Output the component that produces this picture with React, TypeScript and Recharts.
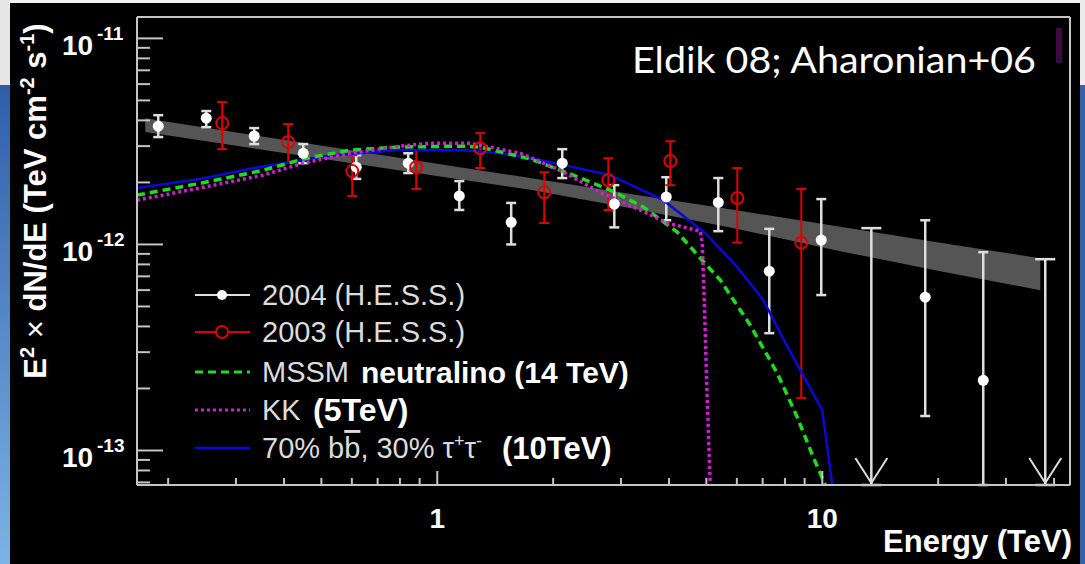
import React from 'react';
import { ComposedChart, Line, Area, Scatter, XAxis, YAxis, ErrorBar } from 'recharts';

// ---------- axes ----------
const X_MIN = 0.166;
const X_MAX = 44;
const Y_MIN = 6.8e-14;
const Y_MAX = 1.27e-11;

const xTicks = [0.2, 0.3, 0.4, 0.5, 0.6, 0.7, 0.8, 0.9, 1, 2, 3, 4, 5, 6, 7, 8, 9, 10, 20, 30, 40];
const yTicks = [
  7e-14, 8e-14, 9e-14,
  1e-13, 2e-13, 3e-13, 4e-13, 5e-13, 6e-13, 7e-13, 8e-13, 9e-13,
  1e-12, 2e-12, 3e-12, 4e-12, 5e-12, 6e-12, 7e-12, 8e-12, 9e-12,
  1e-11,
];

// ---------- 2004 H.E.S.S. ----------
const hess04E = [0.1885, 0.2512, 0.3346, 0.4487, 0.6161, 0.8407, 1.141, 1.556, 2.112, 2.883, 3.934, 5.37, 7.283, 9.94, 18.51, 26.19];
const hess04F = [3.75e-12, 4.1e-12, 3.36e-12, 2.77e-12, 2.37e-12, 2.48e-12, 1.72e-12, 1.28e-12, 2.48e-12, 1.57e-12, 1.7e-12, 1.6e-12, 7.42e-13, 1.05e-12, 5.55e-13, 2.19e-13];
const hess04Hi = [4.24e-12, 4.44e-12, 3.67e-12, 3.07e-12, 2.71e-12, 2.77e-12, 2.03e-12, 1.59e-12, 2.9e-12, 1.94e-12, 2.12e-12, 2.1e-12, 1.19e-12, 1.66e-12, 1.31e-12, 9.17e-13];
const hess04Lo = [3.32e-12, 3.71e-12, 3.07e-12, 2.48e-12, 2.08e-12, 2.22e-12, 1.47e-12, 1.0e-12, 2.1e-12, 1.21e-12, 1.31e-12, 1.16e-12, 3.71e-13, 5.68e-13, 1.47e-13, 6.8e-14];

// 2004 upper limits
const ulE = [13.41, 37.95];
const ulF = [1.2e-12, 8.48e-13];

// ---------- 2003 H.E.S.S. ----------
const hess03E = [0.2764, 0.41, 0.6015, 0.882, 1.293, 1.896, 2.782, 4.03, 6.016, 8.821];
const hess03F = [3.88e-12, 3.14e-12, 2.27e-12, 2.37e-12, 2.93e-12, 1.79e-12, 2.05e-12, 2.54e-12, 1.68e-12, 1.02e-12];
const hess03Hi = [4.91e-12, 3.84e-12, 2.71e-12, 2.87e-12, 3.47e-12, 2.24e-12, 2.62e-12, 3.17e-12, 2.35e-12, 1.86e-12];
const hess03Lo = [2.9e-12, 2.48e-12, 1.72e-12, 1.86e-12, 2.35e-12, 1.27e-12, 1.47e-12, 1.94e-12, 1.02e-12, 1.8e-13];

// ---------- power-law fit band ----------
const bandE = [0.1744, 0.5274, 1.049, 1.744, 3.368, 5.768, 11.14, 20.25, 36.83];
const bandHi = [4.1e-12, 2.97e-12, 2.43e-12, 2.1e-12, 1.73e-12, 1.48e-12, 1.22e-12, 1.02e-12, 8.58e-13];
const bandLo = [3.51e-12, 2.57e-12, 2.12e-12, 1.84e-12, 1.47e-12, 1.21e-12, 9.28e-13, 7.42e-13, 6.0e-13];

// ---------- model curves ----------
const mssmE = [0.166, 0.2423, 0.3532, 0.4487, 0.5943, 0.8015, 1.147, 1.293, 1.744, 2.255, 2.814, 3.429, 4.202, 4.821, 5.435, 6.501, 7.641, 8.612, 9.476, 10.18];
const mssmF = [1.735e-12, 1.98e-12, 2.29e-12, 2.6e-12, 2.87e-12, 2.97e-12, 3.0e-12, 2.97e-12, 2.6e-12, 2.17e-12, 1.835e-12, 1.52e-12, 1.147e-12, 8.58e-13, 6.71e-13, 4.06e-13, 2.37e-13, 1.45e-13, 9.28e-14, 6.8e-14];

const kkE = [0.166, 0.2423, 0.3532, 0.4487, 0.5943, 0.8015, 0.9589, 1.218, 1.643, 2.087, 2.651, 3.368, 3.958, 4.821, 4.879, 4.937, 5.027, 5.118];
const kkF = [1.64e-12, 1.88e-12, 2.17e-12, 2.48e-12, 2.77e-12, 3.0e-12, 3.1e-12, 3.1e-12, 2.77e-12, 2.29e-12, 1.79e-12, 1.47e-12, 1.27e-12, 1.16e-12, 1.015e-12, 5.37e-13, 1.755e-13, 6.8e-14];

const bbE = [0.166, 0.2423, 0.3267, 0.5274, 0.8015, 1.147, 1.458, 1.851, 2.814, 3.864, 4.967, 6.016, 7.029, 7.78, 8.768, 10.0, 10.62];
const bbF = [1.88e-12, 2.08e-12, 2.33e-12, 2.7e-12, 2.87e-12, 2.87e-12, 2.77e-12, 2.57e-12, 2.17e-12, 1.64e-12, 1.135e-12, 7.76e-13, 5.37e-13, 3.71e-13, 2.45e-13, 1.57e-13, 6.8e-14];

// ---------- build series ----------
const pts = (E: number[], F: number[], Lo: number[], Hi: number[]) =>
  E.map((x, i) => ({ x, y: F[i], err: [F[i] - Lo[i], Hi[i] - F[i]] }));
const curve = (E: number[], F: number[]) => E.map((x, i) => ({ x, y: F[i] }));

const data04 = pts(hess04E, hess04F, hess04Lo, hess04Hi);
const data03 = pts(hess03E, hess03F, hess03Lo, hess03Hi);
const dataUL = ulE.map((x, i) => ({ x, y: Y_MIN, err: [0, ulF[i] - Y_MIN] }));
const dataBand = bandE.map((x, i) => ({ x, range: [bandLo[i], bandHi[i]] }));
const dataMssm = curve(mssmE, mssmF);
const dataKK = curve(kkE, kkF);
const dataBB = curve(bbE, bbF);

const FONT = '"Liberation Sans", Arial, Helvetica, sans-serif';
const AXIS = '#c4c4c4';
const WHITE = '#dedede';
const RED = '#e00000';
const GREEN = '#1edc1e';
const MAGENTA = '#cc22cc';
const BLUE = '#0a0ad8';

const isMajor = (v: number) => {
  const lg = Math.log10(v);
  return Math.abs(lg - Math.round(lg)) < 1e-6;
};

function YTick(props: any) {
  const { x, y, payload } = props;
  const v = payload.value;
  const major = isMajor(v);
  const ex = Math.round(Math.log10(v));
  return (
    <g>
      <line x1={x} y1={y} x2={x + (major ? 26 : 13)} y2={y} stroke={AXIS} strokeWidth={2} />
      {major && (
        <text fill="#fff" fontWeight="bold" fontFamily={FONT}>
          <tspan x={x - 75} y={y + 17} fontSize={28}>10</tspan>
          <tspan x={x - 40} y={y + 2} fontSize={19}>{String(ex)}</tspan>
        </text>
      )}
    </g>
  );
}

function XTick(props: any) {
  const { x, y, payload } = props;
  const v = payload.value;
  const major = isMajor(v);
  return (
    <g>
      <line x1={x} y1={y} x2={x} y2={y - (major ? 14 : 7)} stroke={AXIS} strokeWidth={2} />
      {major && (
        <text x={x} y={y + 43} textAnchor="middle" fill="#fff" fontWeight="bold" fontSize={28} fontFamily={FONT}>
          {String(v)}
        </text>
      )}
    </g>
  );
}

const whiteDot = (p: any) => <circle cx={p.cx} cy={p.cy} r={5.5} fill="#fff" />;
const redRing = (p: any) => <circle cx={p.cx} cy={p.cy} r={6} fill="none" stroke={RED} strokeWidth={2} />;
const arrowHead = (p: any) => (
  <polyline
    points={`${p.cx - 16},${p.cy - 27} ${p.cx},${p.cy - 2} ${p.cx + 16},${p.cy - 27}`}
    fill="none"
    stroke={WHITE}
    strokeWidth={2}
  />
);

function Legend() {
  const x0 = 195;
  const x1 = 250;
  const xm = 222;
  const tx = 262;
  const rows = [295, 332, 372, 410, 448];
  const txt = { fill: '#dcdcdc', fontSize: 29, fontFamily: FONT } as any;
  const bold = { fill: '#fff', fontSize: 31, fontWeight: 'bold', fontFamily: FONT } as any;
  return (
    <g>
      <line x1={x0} x2={x1} y1={rows[0]} y2={rows[0]} stroke={WHITE} strokeWidth={2} />
      <circle cx={xm} cy={rows[0]} r={5} fill="#fff" />
      <text x={tx} y={rows[0] + 10} {...txt}>2004 (H.E.S.S.)</text>

      <line x1={x0} x2={x1} y1={rows[1]} y2={rows[1]} stroke={RED} strokeWidth={2} />
      <circle cx={xm} cy={rows[1]} r={6} fill="#000" stroke={RED} strokeWidth={2} />
      <text x={tx} y={rows[1] + 10} {...txt}>2003 (H.E.S.S.)</text>

      <line x1={x0} x2={x1} y1={rows[2]} y2={rows[2]} stroke={GREEN} strokeWidth={3} strokeDasharray="8 5" />
      <text x={tx} y={rows[2] + 10} {...txt}>MSSM</text>
      <text x={361} y={rows[2] + 11} {...bold} fontSize={30}>neutralino (14 TeV)</text>

      <line x1={x0} x2={x1} y1={rows[3]} y2={rows[3]} stroke={MAGENTA} strokeWidth={3} strokeDasharray="3 3" />
      <text x={tx} y={rows[3] + 10} {...txt}>KK</text>
      <text x={313} y={rows[3] + 11} {...bold} fontSize={32}>(5TeV)</text>

      <line x1={x0} x2={x1} y1={rows[4]} y2={rows[4]} stroke={BLUE} strokeWidth={2.5} />
      <text x={tx} y={rows[4] + 10} {...txt}>
        70% b<tspan style={{ textDecoration: 'overline' }}>b</tspan>, 30% τ
        <tspan dy={-11} fontSize={18}>+</tspan>
        <tspan dy={11}>τ</tspan>
        <tspan dy={-11} fontSize={18}>-</tspan>
      </text>
      <text x={502} y={rows[4] + 11} {...bold}>(10TeV)</text>
    </g>
  );
}

export default function App() {
  return (
    <div
      style={{
        position: 'absolute',
        left: 0,
        top: 0,
        width: 1085,
        height: 564,
        background: '#000',
        overflow: 'hidden',
        fontFamily: FONT,
      }}
    >
      <div style={{ position: 'absolute', left: 0, top: 0, width: 1085, height: 3, background: '#f2f2f2' }} />
      <div style={{ position: 'absolute', left: 0, top: 0, width: 10, height: 85, background: '#e6e6e6' }} />
      <div
        style={{
          position: 'absolute',
          left: 0,
          top: 85,
          width: 10,
          height: 479,
          background: 'linear-gradient(#2f5ea8, #7cb3e6)',
        }}
      />
      <div style={{ position: 'absolute', left: 1080, top: 0, width: 5, height: 85, background: '#ececec' }} />
      <div style={{ position: 'absolute', left: 1080, top: 85, width: 5, height: 479, background: '#3562ab' }} />

      <div style={{ position: 'absolute', left: 0, top: 0 }}>
        <ComposedChart width={1085} height={564} margin={{ top: 16, right: 14, bottom: 78, left: 136 }}>
          <XAxis
            dataKey="x"
            type="number"
            scale="log"
            domain={[X_MIN, X_MAX]}
            allowDataOverflow
            ticks={xTicks}
            interval={0}
            tick={XTick}
            tickLine={false}
            tickSize={0}
            tickMargin={0}
            height={1}
            axisLine={{ stroke: AXIS, strokeWidth: 2 }}
          />
          <XAxis
            xAxisId="top"
            orientation="top"
            type="number"
            domain={[0, 1]}
            tick={false}
            tickLine={false}
            height={1}
            axisLine={{ stroke: AXIS, strokeWidth: 2 }}
          />
          <YAxis
            dataKey="y"
            type="number"
            scale="log"
            domain={[Y_MIN, Y_MAX]}
            allowDataOverflow
            ticks={yTicks}
            interval={0}
            tick={YTick}
            tickLine={false}
            tickSize={0}
            tickMargin={0}
            width={1}
            axisLine={{ stroke: AXIS, strokeWidth: 2 }}
          />
          <YAxis
            yAxisId="right"
            orientation="right"
            type="number"
            domain={[0, 1]}
            tick={false}
            tickLine={false}
            width={1}
            axisLine={{ stroke: AXIS, strokeWidth: 2 }}
          />

          <Area
            data={dataBand}
            dataKey="range"
            type="linear"
            stroke="none"
            fill="#555555"
            fillOpacity={1}
            isAnimationActive={false}
          />

          <Scatter data={data04} fill="#fff" shape={whiteDot} isAnimationActive={false}>
            <ErrorBar dataKey="err" direction="y" width={5} stroke={WHITE} strokeWidth={2.5} isAnimationActive={false} />
          </Scatter>
          <Scatter data={dataUL} fill="#fff" shape={arrowHead} isAnimationActive={false}>
            <ErrorBar dataKey="err" direction="y" width={10} stroke={WHITE} strokeWidth={2.5} isAnimationActive={false} />
          </Scatter>
          <Scatter data={data03} fill={RED} shape={redRing} isAnimationActive={false}>
            <ErrorBar dataKey="err" direction="y" width={5} stroke={RED} strokeWidth={2} isAnimationActive={false} />
          </Scatter>

          <Line
            data={dataBB}
            dataKey="y"
            type="linear"
            stroke={BLUE}
            strokeWidth={2.5}
            dot={false}
            activeDot={false}
            isAnimationActive={false}
          />
          <Line
            data={dataMssm}
            dataKey="y"
            type="linear"
            stroke={GREEN}
            strokeWidth={3.5}
            strokeDasharray="8 5"
            dot={false}
            activeDot={false}
            isAnimationActive={false}
          />
          <Line
            data={dataKK}
            dataKey="y"
            type="linear"
            stroke={MAGENTA}
            strokeWidth={3.5}
            strokeDasharray="3 3"
            dot={false}
            activeDot={false}
            isAnimationActive={false}
          />
        </ComposedChart>
      </div>

      <svg
        width={1085}
        height={564}
        style={{ position: 'absolute', left: 0, top: 0, pointerEvents: 'none' }}
      >
        <text
          x={632}
          y={73}
          fill="#fff"
          fontSize={36}
          textLength={404}
          lengthAdjust="spacingAndGlyphs"
          fontFamily="Lato, 'Open Sans', sans-serif"
        >
          Eldik 08; Aharonian+06
        </text>
        <rect x={1056} y={28} width={6} height={35} fill="#3c0a3c" />
        <text
          transform="translate(46,201) rotate(-90)"
          textAnchor="middle"
          fill="#fff"
          fontSize={31}
          fontWeight="bold"
          fontFamily={FONT}
        >
          E<tspan dy={-12} fontSize={20}>2</tspan>
          <tspan dy={12} fontWeight="normal"> × </tspan>
          <tspan>dN/dE (TeV cm</tspan>
          <tspan dy={-12} fontSize={20}>-2</tspan>
          <tspan dy={12}> s</tspan>
          <tspan dy={-12} fontSize={20}>-1</tspan>
          <tspan dy={12}>)</tspan>
        </text>
        <text x={1072} y={552} textAnchor="end" fill="#fff" fontSize={31} fontWeight="bold" fontFamily={FONT}>
          Energy (TeV)
        </text>
        <Legend />
      </svg>
    </div>
  );
}
